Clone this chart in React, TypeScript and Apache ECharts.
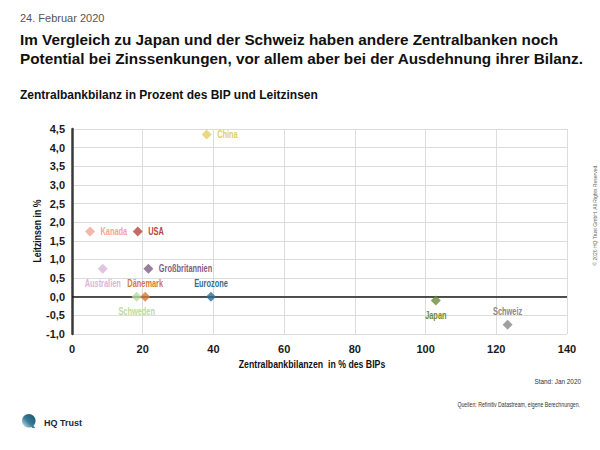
import React, { useEffect, useRef } from "react";
import * as echarts from "echarts";

// ---- Data ----
const countries = [
  "China",
  "Kanada",
  "USA",
  "Australien",
  "Großbritannien",
  "Schweden",
  "Dänemark",
  "Eurozone",
  "Japan",
  "Schweiz",
];
// Zentralbankbilanzen in % des BIPs
const balanceSheetPct = [38.1, 5.1, 18.6, 8.7, 21.6, 18.3, 20.7, 39.3, 102.9, 123.2];
// Leitzinsen in %
const policyRates = [4.35, 1.75, 1.75, 0.75, 0.75, 0.0, 0.0, 0.0, -0.1, -0.75];

const xTickMin = 0;
const xTickMax = 140;
const xTickStep = 20;
const yTickMin = -1.0;
const yTickMax = 4.5;
const yTickStep = 0.5;

// ---- Styling (kept separate from data) ----
const pointColors = [
  "#e3cd62",
  "#f0a596",
  "#b5463e",
  "#d8b6db",
  "#7f5d86",
  "#b9dca2",
  "#d27a3c",
  "#2f6e94",
  "#6c8a3a",
  "#8c8789",
];
const labelPlacement = [
  "right",
  "right",
  "right",
  "bottom",
  "right",
  "bottom",
  "top",
  "top",
  "bottom",
  "top",
];

const FONT = "'Liberation Sans', Arial, sans-serif";
const NARROW = 0.74;

echarts.graphic.registerShape(
  "hqlogo",
  echarts.graphic.extendPath(
    "M10 0 C15.5 0 20 4.5 20 10 C20 13 18.8 15.6 16.8 17.4 L19.5 20.5 L15 20.5 L13.8 19.2 C12.6 19.7 11.3 20 10 20 C4.5 20 0 15.5 0 10 C0 4.5 4.5 0 10 0 Z",
    {}
  )
);

export default function App() {
  const ref = useRef<HTMLDivElement>(null);

  useEffect(() => {
    if (!ref.current) return;
    const chart = echarts.init(ref.current, undefined, { renderer: "svg" });

    const data = countries.map((name, i) => ({
      name,
      value: [balanceSheetPct[i], policyRates[i]],
      itemStyle: { color: pointColors[i] },
    }));

    chart.setOption({
      animation: false,
      backgroundColor: "#ffffff",
      grid: { left: 72, right: 33, top: 129, bottom: 116, containLabel: false },
      xAxis: {
        type: "value",
        min: xTickMin,
        max: xTickMax,
        interval: xTickStep,
        axisLine: { show: false, onZero: false },
        axisTick: { show: false },
        axisLabel: {
          color: "#1a1a1a",
          fontFamily: FONT,
          fontWeight: "bold",
          fontSize: 11,
          margin: 9,
        },
        splitLine: { show: true, lineStyle: { color: "#dcdcdc", width: 1 } },
      },
      yAxis: {
        type: "value",
        min: yTickMin,
        max: yTickMax,
        interval: yTickStep,
        axisLine: { show: true, onZero: false, lineStyle: { color: "#3a3a3a", width: 2.5 } },
        axisTick: { show: false },
        axisLabel: {
          color: "#1a1a1a",
          fontFamily: FONT,
          fontWeight: "bold",
          fontSize: 11,
          margin: 7,
          formatter: (v: number) => v.toFixed(1).replace(".", ","),
        },
        splitLine: { show: true, lineStyle: { color: "#dcdcdc", width: 1 } },
      },
      series: [
        {
          type: "scatter",
          symbol: "diamond",
          symbolSize: 10,
          data,
          z: 5,
          markLine: {
            silent: true,
            symbol: "none",
            label: { show: false },
            lineStyle: { color: "#1a1a1a", width: 1.5, type: "solid" },
            data: [{ yAxis: 0 }],
            z: 3,
          },
        },
      ],
    });

    // Point labels in a condensed look, placed via the chart's own scales
    const pointLabels = countries.map((name, i) => {
      const [px, py] = chart.convertToPixel({ gridIndex: 0 }, [
        balanceSheetPct[i],
        policyRates[i],
      ]) as number[];
      const pos = labelPlacement[i];
      let x = px;
      let y = py;
      let align = "center";
      if (pos === "right") {
        x = px + 10.5;
        align = "left";
      } else if (pos === "top") {
        y = py - 13.5;
      } else {
        y = py + 15;
      }
      return {
        type: "text",
        x,
        y,
        scaleX: NARROW,
        z: 10,
        silent: true,
        style: {
          text: name,
          fontFamily: FONT,
          fontWeight: "bold",
          fontSize: 10,
          fill: pointColors[i],
          align,
          verticalAlign: "middle",
        },
      };
    });

    chart.setOption({
      graphic: [
        {
          type: "text",
          left: 20,
          top: 12,
          style: { text: "24. Februar 2020", fontFamily: FONT, fontSize: 11, fill: "#555555" },
        },
        {
          type: "text",
          left: 20,
          top: 30,
          style: {
            text: "Im Vergleich zu Japan und der Schweiz haben andere Zentralbanken noch\nPotential bei Zinssenkungen, vor allem aber bei der Ausdehnung ihrer Bilanz.",
            fontFamily: FONT,
            fontWeight: "bold",
            fontSize: 15.3,
            lineHeight: 19,
            fill: "#111111",
          },
        },
        {
          type: "text",
          left: 20,
          top: 89,
          style: {
            text: "Zentralbankbilanz in Prozent des BIP und Leitzinsen",
            fontFamily: FONT,
            fontWeight: "bold",
            fontSize: 12,
            fill: "#111111",
          },
        },
        {
          type: "text",
          x: 37,
          y: 231,
          rotation: Math.PI / 2,
          scaleX: 0.76,
          style: {
            text: "Leitzinsen in %",
            fontFamily: FONT,
            fontWeight: "bold",
            fontSize: 11.5,
            fill: "#111111",
            align: "center",
            verticalAlign: "middle",
          },
        },
        {
          type: "text",
          x: 312,
          y: 364,
          scaleX: 0.76,
          style: {
            text: "Zentralbankbilanzen  in % des BIPs",
            fontFamily: FONT,
            fontWeight: "bold",
            fontSize: 11.5,
            fill: "#111111",
            align: "center",
            verticalAlign: "middle",
          },
        },
        {
          type: "text",
          x: 581,
          y: 381,
          scaleX: 0.8,
          style: {
            text: "Stand: Jan 2020",
            fontFamily: FONT,
            fontSize: 8,
            fill: "#333333",
            align: "right",
            verticalAlign: "middle",
          },
        },
        {
          type: "text",
          x: 580,
          y: 405,
          scaleX: 0.8,
          style: {
            text: "Quellen: Refinitiv Datastream, eigene Berechnungen.",
            fontFamily: FONT,
            fontSize: 6.5,
            fill: "#333333",
            align: "right",
            verticalAlign: "middle",
          },
        },
        {
          type: "text",
          x: 595,
          y: 215,
          rotation: Math.PI / 2,
          style: {
            text: "© 2020 HQ Trust GmbH. All Rights Reserved.",
            fontFamily: FONT,
            fontSize: 5,
            fill: "#666666",
            align: "center",
            verticalAlign: "middle",
          },
        },
        {
          type: "hqlogo",
          x: 22,
          y: 414,
          scaleX: 0.68,
          scaleY: 0.68,
          style: {
            fill: new echarts.graphic.LinearGradient(1, 0, 0, 1, [
              { offset: 0, color: "#0f4f6c" },
              { offset: 0.55, color: "#3b7d99" },
              { offset: 1, color: "#eef2f5" },
            ]),
          },
        },
        {
          type: "text",
          x: 44,
          y: 423,
          style: {
            text: "HQ Trust",
            fontFamily: FONT,
            fontWeight: "bold",
            fontSize: 9,
            fill: "#1a2a3a",
            verticalAlign: "middle",
          },
        },
        ...pointLabels,
      ],
    });

    return () => chart.dispose();
  }, []);

  return (
    <div
      ref={ref}
      style={{ position: "absolute", left: 0, top: 0, width: 600, height: 450 }}
    />
  );
}
